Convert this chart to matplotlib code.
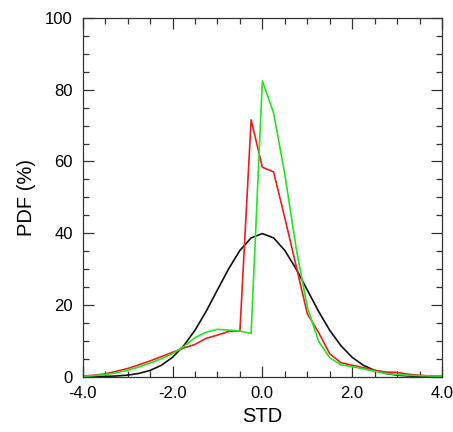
import matplotlib
matplotlib.use("Agg")
import matplotlib.pyplot as plt
from matplotlib.ticker import MultipleLocator, FormatStrFormatter

plt.rcParams['font.family'] = ['Liberation Sans', 'DejaVu Sans']

std = [-4.0, -3.75, -3.5, -3.25, -3.0, -2.75, -2.5, -2.25, -2.0, -1.75, -1.5, -1.25,
       -1.0, -0.75, -0.5, -0.25, 0.0, 0.25, 0.5, 0.75, 1.0, 1.25, 1.5, 1.75,
       2.0, 2.25, 2.5, 2.75, 3.0, 3.25, 3.5, 3.75, 4.0]

pdf_black = [0.01, 0.03, 0.09, 0.2, 0.44, 0.91, 1.75, 3.17, 5.4, 8.63, 12.95, 18.26,
             24.2, 30.1, 35.2, 38.7, 39.9, 38.7, 35.2, 30.1, 24.2, 18.26, 12.95, 8.63,
             5.4, 3.17, 1.75, 0.91, 0.44, 0.2, 0.09, 0.03, 0.01]

pdf_red = [0.2, 0.4, 0.8, 1.5, 2.3, 3.3, 4.4, 5.6, 6.8, 8.0, 9.0, 10.7,
           11.6, 12.6, 12.7, 71.6, 58.4, 57.1, 44.3, 31.0, 17.6, 12.4, 6.4, 3.9,
           3.2, 2.5, 1.8, 1.3, 1.2, 0.7, 0.4, 0.2, 0.1]

pdf_green = [0.1, 0.3, 0.6, 1.1, 1.8, 2.7, 3.8, 5.0, 6.4, 8.4, 10.9, 12.4,
             13.2, 13.0, 12.7, 12.1, 82.5, 73.5, 56.5, 36.0, 19.5, 9.9, 5.3, 3.3,
             2.8, 2.2, 1.5, 0.9, 0.6, 0.4, 0.3, 0.2, 0.1]

fig = plt.figure(figsize=(4.53, 4.32), dpi=100)
ax = fig.add_axes([0.1826, 0.128, 0.7931, 0.8303])

ax.plot(std, pdf_black, color='#111111', lw=1.2)
ax.plot(std, pdf_red, color='#ee1c1c', lw=1.2)
ax.plot(std, pdf_green, color='#22e622', lw=1.2)

ax.set_xlim(-4, 4)
ax.set_ylim(0, 100)
ax.xaxis.set_major_locator(MultipleLocator(2))
ax.xaxis.set_minor_locator(MultipleLocator(0.5))
ax.yaxis.set_major_locator(MultipleLocator(20))
ax.yaxis.set_minor_locator(MultipleLocator(5))
ax.xaxis.set_major_formatter(FormatStrFormatter('%.1f'))
ax.yaxis.set_major_formatter(FormatStrFormatter('%d'))

ax.tick_params(which='both', direction='in', top=True, right=True, width=0.9, color='#333333')
ax.tick_params(which='major', length=8, labelsize=12, pad=7)
ax.tick_params(which='minor', length=4.5)
for s in ax.spines.values():
    s.set_linewidth(0.9)
    s.set_color('#333333')

ax.set_xlabel('STD', fontsize=14.5, labelpad=4)
ax.set_ylabel('PDF (%)', fontsize=14.5, labelpad=7)

fig.savefig('out.png', dpi=100)
